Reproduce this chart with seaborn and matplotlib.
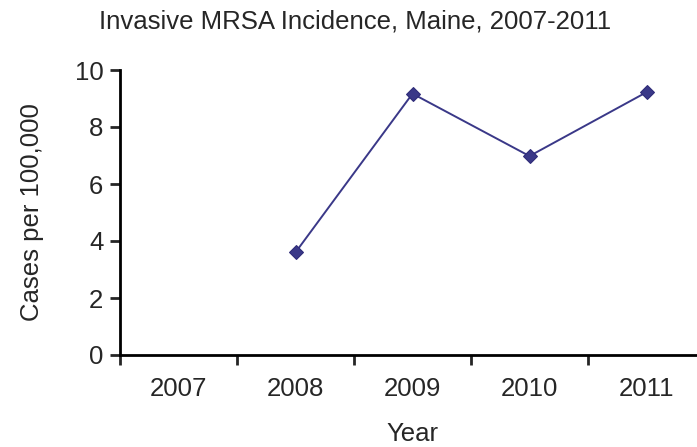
import numpy as np
import pandas as pd
import matplotlib.pyplot as plt
import seaborn as sns
from matplotlib.ticker import FixedLocator

years = [2007, 2008, 2009, 2010, 2011]
cases = [np.nan, 3.6, 9.17, 6.98, 9.22]
df = pd.DataFrame({"Year": years, "Cases": cases})

sns.set_style("white")
plt.rcParams['font.family'] = ['Liberation Sans', 'DejaVu Sans']

fig = plt.figure(figsize=(6.97, 4.47), dpi=100)
ax = fig.add_axes([120/697, 92/447, 585/697, 285/447])
sns.lineplot(data=df, x="Year", y="Cases", ax=ax, color="#3a3888", marker="D",
             markersize=7.5, markeredgecolor="#2e2b78", linewidth=1.4)

ax.set_xlim(2006.5, 2011.5)
ax.set_ylim(0, 10)
ax.set_yticks([0, 2, 4, 6, 8, 10])
ax.set_xticks(years)
ax.set_xticklabels([str(y) for y in years])
ax.xaxis.set_minor_locator(FixedLocator([2006.5, 2007.5, 2008.5, 2009.5, 2010.5, 2011.5]))
ax.tick_params(axis="x", which="major", length=0, pad=16, labelsize=18.5)
ax.tick_params(axis="x", which="minor", length=7, width=2, direction="out", bottom=True)
ax.tick_params(axis="y", length=7, width=2, direction="out", left=True, labelsize=18.5, pad=5)

for s in ["top", "right"]:
    ax.spines[s].set_visible(False)
for s in ["left", "bottom"]:
    ax.spines[s].set_linewidth(2)
    ax.spines[s].set_color("black")

ax.set_xlabel("Year", fontsize=18.5, labelpad=15)
ax.set_ylabel("Cases per 100,000", fontsize=18.5, labelpad=22)
fig.text(355/697, 1 - 21/447, "Invasive MRSA Incidence, Maine, 2007-2011", ha="center", va="center", fontsize=18.5)

fig.savefig("out.png", dpi=100)
